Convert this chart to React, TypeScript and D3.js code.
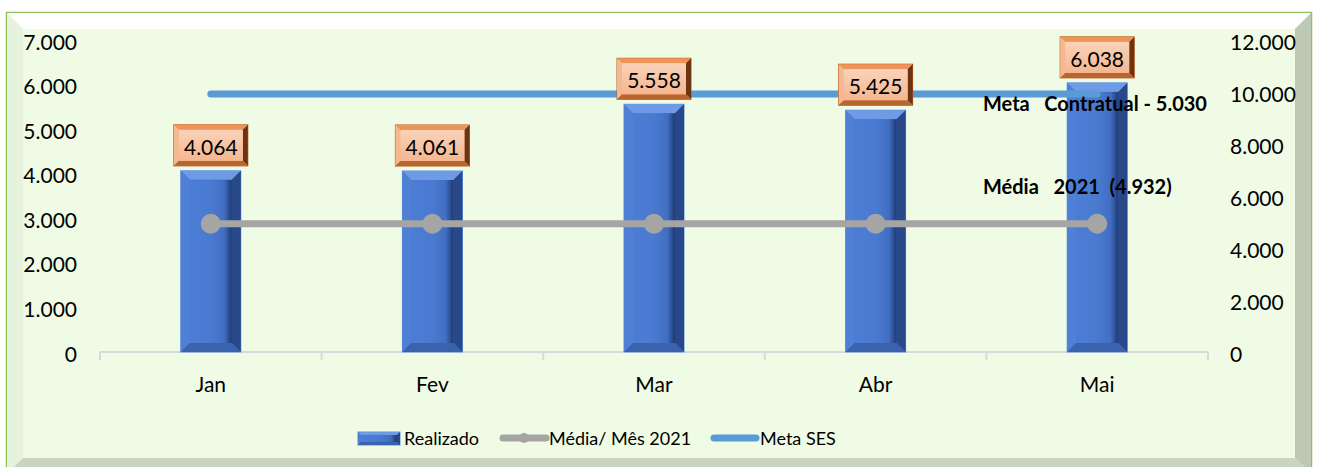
import React from "react";
import * as d3 from "d3";

const months = ["Jan", "Fev", "Mar", "Abr", "Mai"];
const realizado = [4064, 4061, 5558, 5425, 6038];
const mediaMes = [4932, 4932, 4932, 4932, 4932];
const metaSes = [9920, 9920, 9920, 9920, 9920];
const leftTicks = [0, 1000, 2000, 3000, 4000, 5000, 6000, 7000];
const rightTicks = [0, 2000, 4000, 6000, 8000, 10000, 12000];
const notes = ["Meta   Contratual - 5.030", "Média   2021  (4.932)"];
const noteValues = [5030, 4932];
const legendNames = ["Realizado", "Média/ Mês 2021", "Meta SES"];

const W = 1317;
const H = 467;
const FONT = "Lato, 'Open Sans', sans-serif";

const locale = d3.formatLocale({
  decimal: ",",
  thousands: ".",
  grouping: [3],
  currency: ["R$", ""],
});
const fmt = locale.format(",.0f");

// bevelled rectangle, Excel style
const Bevel = ({ x, y, w, h, b, c, id }: any) => {
  const x1 = x + w;
  const y1 = y + h;
  return (
    <g>
      <rect x={x} y={y} width={w} height={h} fill={c.base} stroke={c.edge} strokeWidth={1} />
      <polygon points={`${x},${y} ${x1},${y} ${x1 - b},${y + b} ${x + b},${y + b}`} fill={c.top} />
      <polygon points={`${x},${y} ${x + b},${y + b} ${x + b},${y1 - b} ${x},${y1}`} fill={c.left} />
      <polygon points={`${x1},${y} ${x1},${y1} ${x1 - b},${y1 - b} ${x1 - b},${y + b}`} fill={c.right} />
      <polygon points={`${x},${y1} ${x + b},${y1 - b} ${x1 - b},${y1 - b} ${x1},${y1}`} fill={c.bottom} />
      <rect x={x + b} y={y + b} width={Math.max(0, w - 2 * b)} height={Math.max(0, h - 2 * b)} fill={`url(#${id})`} />
    </g>
  );
};

const barColors = {
  base: "#4472c4",
  edge: "#5e8fdd",
  top: "#6f9be6",
  left: "#4f80d6",
  right: "#28488a",
  bottom: "#3a62ad",
};
const boxColors = {
  base: "#f4b183",
  edge: "#b8561a",
  top: "#ef9358",
  left: "#f5b890",
  right: "#6e3410",
  bottom: "#b9652e",
};

export default function App() {
  const x = d3.scaleBand().domain(months).range([100, 1208]);
  const cx = (m: string) => (x(m) as number) + x.bandwidth() / 2;
  const yL = d3.scaleLinear().domain([0, 7000]).range([352, 40]);
  const yR = d3.scaleLinear().domain([0, 12000]).range([352, 40]);

  const barW = 60;
  const boxW = 74;
  const boxH = 41;

  const mediaLine = d3
    .line<number>()
    .x((_, i) => cx(months[i]))
    .y((d) => yR(d));
  const metaLine = d3
    .line<number>()
    .x((_, i) => cx(months[i]))
    .y((d) => yR(d));

  return (
    <svg width={W} height={H} style={{ position: "absolute", left: 0, top: 0, fontFamily: FONT }}>
      <defs>
        <linearGradient id="barInner" x1="0" x2="1" y1="0" y2="0">
          <stop offset="0" stopColor="#4c7dd5" />
          <stop offset="0.5" stopColor="#4a7ad0" />
          <stop offset="0.82" stopColor="#416ec2" />
          <stop offset="1" stopColor="#1d3a72" />
        </linearGradient>
        <linearGradient id="boxInner" x1="0" x2="0" y1="0" y2="1">
          <stop offset="0" stopColor="#f9d3b9" />
          <stop offset="1" stopColor="#f5b690" />
        </linearGradient>
      </defs>

      {/* frame */}
      <rect x={6.5} y={12.5} width={1305} height={470} fill="#effbe4" stroke="#8cc35e" strokeWidth={1.5} />
      <polygon points="7,13 1311,13 1295,29 23,29" fill="#ffffff" />
      <polygon points="7,13 23,29 23,458 7,474" fill="#e6f2dc" />
      <polygon points="1311,13 1311,474 1295,458 1295,29" fill="#bdc9b4" />
      <polygon points="7,474 23,458 1295,458 1311,474" fill="#c9d5c1" />

      {/* x axis */}
      <line x1={100} x2={1208} y1={352} y2={352} stroke="#d9d9d9" strokeWidth={2} />
      {d3.range(months.length + 1).map((i) => {
        const tx = 100 + i * x.bandwidth();
        return <line key={i} x1={tx} x2={tx} y1={352} y2={360} stroke="#d9d9d9" strokeWidth={2} />;
      })}
      {months.map((m) => (
        <text key={m} x={cx(m)} y={383} fontSize={21} textAnchor="middle" dominantBaseline="central" fill="#000">
          {m}
        </text>
      ))}

      {/* y axes */}
      {leftTicks.map((t) => (
        <text key={t} x={77} y={yL(t) + 1} fontSize={21} textAnchor="end" dominantBaseline="central" fill="#000">
          {fmt(t)}
        </text>
      ))}
      {rightTicks.map((t) => (
        <text key={t} x={1230} y={yR(t) + 1} fontSize={21} textAnchor="start" dominantBaseline="central" fill="#000">
          {fmt(t)}
        </text>
      ))}

      {/* bars */}
      {realizado.map((v, i) => (
        <Bevel
          key={i}
          id="barInner"
          x={cx(months[i]) - barW / 2}
          y={yL(v)}
          w={barW}
          h={yL(0) - yL(v)}
          b={9}
          c={barColors}
        />
      ))}

      {/* lines */}
      <path d={metaLine(metaSes) || ""} fill="none" stroke="#5b9bd5" strokeWidth={7} strokeLinecap="round" />
      <path d={mediaLine(mediaMes) || ""} fill="none" stroke="#a5a5a5" strokeWidth={7} />
      {mediaMes.map((v, i) => (
        <circle key={i} cx={cx(months[i])} cy={yR(v)} r={10} fill="#a5a5a5" />
      ))}

      {/* data labels */}
      {realizado.map((v, i) => {
        const bx = cx(months[i]) - boxW / 2;
        const by = yL(v) - 5 - boxH;
        return (
          <g key={i}>
            <Bevel id="boxInner" x={bx} y={by} w={boxW} h={boxH} b={5} c={boxColors} />
            <text x={bx + boxW / 2} y={by + boxH / 2 + 1} fontSize={21} textAnchor="middle" dominantBaseline="central" fill="#000">
              {fmt(v)}
            </text>
          </g>
        );
      })}

      {/* notes */}
      {notes.map((n, i) => (
        <text
          key={n}
          x={983}
          y={i === 0 ? 103 : 186}
          fontSize={20}
          fontWeight={700}
          dominantBaseline="central"
          fill="#000"
          style={{ whiteSpace: "pre" }}
          data-value={noteValues[i]}
        >
          {n}
        </text>
      ))}

      {/* legend */}
      <g>
        <Bevel id="barInner" x={358} y={432} w={42} h={13} b={3} c={barColors} />
        <text x={404} y={438} fontSize={18} dominantBaseline="central" fill="#000">
          {legendNames[0]}
        </text>
        <line x1={503} x2={546} y1={438} y2={438} stroke="#a5a5a5" strokeWidth={7} strokeLinecap="round" />
        <circle cx={524} cy={438} r={5} fill="#a5a5a5" />
        <text x={549} y={438} fontSize={18} dominantBaseline="central" fill="#000">
          {legendNames[1]}
        </text>
        <line x1={714} x2={756} y1={438} y2={438} stroke="#5b9bd5" strokeWidth={7} strokeLinecap="round" />
        <text x={760} y={438} fontSize={18} dominantBaseline="central" fill="#000">
          {legendNames[2]}
        </text>
      </g>
    </svg>
  );
}
